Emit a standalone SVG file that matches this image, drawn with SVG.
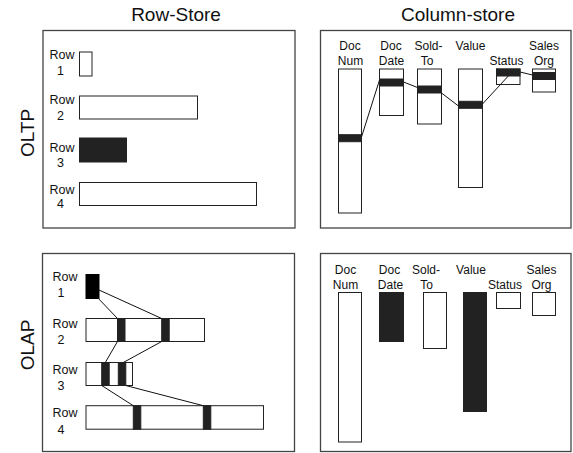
<svg xmlns="http://www.w3.org/2000/svg" width="573" height="453" viewBox="0 0 573 453">
<style>
text{font-family:"Liberation Sans",Arial,sans-serif;fill:#111}
.t{font-size:19px;text-anchor:middle}
.side{font-size:19px;text-anchor:middle}
.l{font-size:12.5px;text-anchor:middle}
.c{font-size:12px;text-anchor:middle}
.frame{fill:none;stroke:#444;stroke-width:1.3}
.box{fill:#fff;stroke:#222;stroke-width:1}
.dark{fill:#222;stroke:#222;stroke-width:1}
.blk{fill:#000;stroke:#000;stroke-width:1}
.conn line{stroke:#111;stroke-width:1}
</style>
<rect width="573" height="453" fill="#fff"/>
<text class="t" x="176" y="20.5">Row-Store</text>
<text class="t" x="458" y="20.5">Column-store</text>
<text class="side" transform="translate(33.5,133) rotate(-90)">OLTP</text>
<text class="side" transform="translate(33.5,345) rotate(-90)">OLAP</text>

<g id="oltp-row">
<rect class="frame" x="43" y="30.5" width="252" height="197.5"/>
<g id="r1"><text class="l" x="62" y="59">Row</text><text class="l" x="60.5" y="75">1</text><rect class="box" x="79.5" y="52" width="12.5" height="24"/></g>
<g id="r2"><text class="l" x="62" y="103.5">Row</text><text class="l" x="60.5" y="120">2</text><rect class="box" x="79.5" y="96" width="118" height="23"/></g>
<g id="r3"><text class="l" x="62" y="151.5">Row</text><text class="l" x="60.5" y="166.5">3</text><rect class="dark" x="79.5" y="138" width="47" height="24"/></g>
<g id="r4"><text class="l" x="62" y="193.5">Row</text><text class="l" x="60.5" y="208">4</text><rect class="box" x="79.5" y="182.5" width="177" height="23"/></g>
</g>

<g id="oltp-col">
<rect class="frame" x="320.5" y="30.5" width="250.5" height="197.5"/>
<g id="c1"><text class="c" x="350" y="49.5">Doc</text><text class="c" x="350.5" y="64.5">Num</text><rect class="box" x="338.5" y="69" width="23" height="144"/><rect class="dark" x="338.5" y="134.7" width="23" height="7"/></g>
<g id="c2"><text class="c" x="391" y="49.5">Doc</text><text class="c" x="391.5" y="64.5">Date</text><rect class="box" x="379.5" y="69" width="24" height="46.5"/><rect class="dark" x="379.5" y="79" width="24" height="7"/></g>
<g id="c3"><text class="c" x="428.5" y="49.5">Sold-</text><text class="c" x="427" y="64.5">To</text><rect class="box" x="417.5" y="69" width="24" height="55"/><rect class="dark" x="417.5" y="86" width="24" height="7"/></g>
<g id="c4"><text class="c" x="470.5" y="49.5">Value</text><rect class="box" x="458.5" y="69" width="24" height="118.5"/><rect class="dark" x="458.5" y="101.3" width="24" height="7"/></g>
<g id="c5"><text class="c" x="506.5" y="64.5">Status</text><rect class="box" x="496.5" y="69" width="23.5" height="15.5"/><rect class="dark" x="496.5" y="69" width="23.5" height="7"/></g>
<g id="c6"><text class="c" x="544" y="49.5">Sales</text><text class="c" x="544" y="64.5">Org</text><rect class="box" x="532.5" y="69" width="23" height="23"/><rect class="dark" x="532.5" y="72.5" width="23" height="7"/></g>
</g>

<g id="olap-row">
<rect class="frame" x="42.5" y="253.5" width="252" height="198"/>
<g id="b1"><text class="l" x="65" y="280.7">Row</text><text class="l" x="61" y="296.7">1</text><rect class="blk" x="86" y="274.5" width="13" height="24"/></g>
<g id="b2"><text class="l" x="65" y="328.3">Row</text><text class="l" x="61" y="343.5">2</text><rect class="box" x="86" y="318.5" width="118.5" height="23"/><rect class="dark" x="117.5" y="318.5" width="7.5" height="23"/><rect class="dark" x="161.7" y="318.5" width="7.5" height="23"/></g>
<g id="b3"><text class="l" x="65" y="374">Row</text><text class="l" x="61" y="390">3</text><rect class="box" x="86" y="362.5" width="46.5" height="23"/><rect class="dark" x="101.7" y="362.5" width="7.5" height="23"/><rect class="dark" x="118.3" y="362.5" width="7.5" height="23"/></g>
<g id="b4"><text class="l" x="65" y="416.7">Row</text><text class="l" x="61" y="434">4</text><rect class="box" x="86" y="405.7" width="177.5" height="23.5"/><rect class="dark" x="133.3" y="405.7" width="7.5" height="23.5"/><rect class="dark" x="203.3" y="405.7" width="7.5" height="23.5"/></g>
</g>

<g id="olap-col">
<rect class="frame" x="320.5" y="253.5" width="250.5" height="198"/>
<g id="d1"><text class="c" x="345.5" y="273.5">Doc</text><text class="c" x="345.5" y="289">Num</text><rect class="box" x="338.5" y="292.5" width="23" height="149.5"/></g>
<g id="d2"><text class="c" x="389.5" y="273.5">Doc</text><text class="c" x="390.5" y="289">Date</text><rect class="dark" x="379.5" y="292.5" width="24" height="49"/></g>
<g id="d3"><text class="c" x="426" y="273.5">Sold-</text><text class="c" x="426.5" y="289">To</text><rect class="box" x="423.5" y="292.5" width="23" height="56"/></g>
<g id="d4"><text class="c" x="471" y="273.5">Value</text><rect class="dark" x="463.5" y="292.5" width="23" height="119"/></g>
<g id="d5"><text class="c" x="505" y="289">Status</text><rect class="box" x="496.5" y="292.5" width="24" height="16"/></g>
<g id="d6"><text class="c" x="541.5" y="273.5">Sales</text><text class="c" x="541.5" y="289">Org</text><rect class="box" x="532.5" y="292.5" width="23" height="23"/></g>
</g>

<g id="connectors" class="conn">
<line x1="361.5" y1="137" x2="379.5" y2="80"/>
<line x1="403.5" y1="82" x2="417.5" y2="87.5"/>
<line x1="441.5" y1="93" x2="458.5" y2="106"/>
<line x1="482.5" y1="104" x2="508.3" y2="76"/>
<line x1="520" y1="72" x2="532.5" y2="75"/>
<line x1="96.7" y1="296.7" x2="117.5" y2="318.5"/>
<line x1="99" y1="290" x2="161.7" y2="318.5"/>
<line x1="117.5" y1="341.5" x2="105.3" y2="362.5"/>
<line x1="161.7" y1="341.5" x2="123.3" y2="362.5"/>
<line x1="101.7" y1="385.5" x2="133.3" y2="405.7"/>
<line x1="125.7" y1="385.5" x2="203.3" y2="405.7"/>
</g>
</svg>
